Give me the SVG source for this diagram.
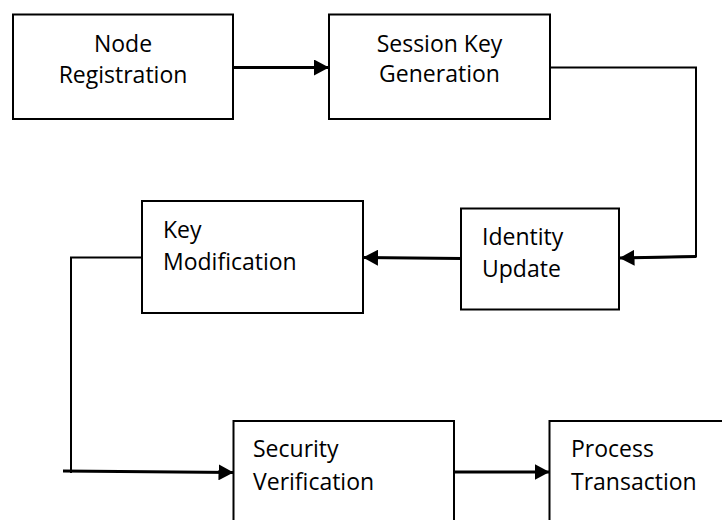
<svg xmlns="http://www.w3.org/2000/svg" width="722" height="520" viewBox="0 0 722 520">
  <defs>
    <marker id="arrow" markerUnits="userSpaceOnUse" markerWidth="16" markerHeight="16" viewBox="0 0 16 16" refX="15" refY="8" orient="auto">
      <path d="M0,0 L15,8 L0,16 Z" fill="#000"/>
    </marker>
    <style>
      .box { fill: #fff; stroke: #000; stroke-width: 2; }
      .lbl { font-family: "Open Sans", "Noto Sans", "Liberation Sans", sans-serif; font-size: 23px; fill: #000; }
      .mid { text-anchor: middle; }
      .wire { fill: none; stroke: #000; stroke-width: 2; }
      .thick { stroke-width: 3; }
    </style>
  </defs>
  <rect width="722" height="520" fill="#fff"/>

  <g id="connectors">
    <path class="wire thick" d="M233,67.5 H329" marker-end="url(#arrow)"/>
    <path class="wire" d="M550,67.5 H696 V256.5 L619.5,258"/>
    <path class="wire thick" d="M696,256.5 L619.5,258" marker-end="url(#arrow)"/>
    <path class="wire thick" d="M461,258.5 L363,257.5" marker-end="url(#arrow)"/>
    <path class="wire" d="M142,257.5 H71 V473"/>
    <path class="wire thick" d="M63,471 L233.5,472.5" marker-end="url(#arrow)"/>
    <path class="wire thick" d="M454,472 H549.5" marker-end="url(#arrow)"/>
  </g>

  <g id="node-registration">
    <rect class="box" x="13" y="14.5" width="220" height="104.5"/>
    <text class="lbl mid" x="123" y="51.5">Node</text>
    <text class="lbl mid" x="123" y="82.5">Registration</text>
  </g>

  <g id="session-key-generation">
    <rect class="box" x="329" y="14.5" width="221" height="104.5"/>
    <text class="lbl mid" x="439.5" y="51.5">Session Key</text>
    <text class="lbl mid" x="439.5" y="82">Generation</text>
  </g>

  <g id="identity-update">
    <rect class="box" x="461" y="208.5" width="158" height="101"/>
    <text class="lbl" x="482" y="245">Identity</text>
    <text class="lbl" x="482" y="277">Update</text>
  </g>

  <g id="key-modification">
    <rect class="box" x="142" y="201" width="221" height="112"/>
    <text class="lbl" x="163" y="238">Key</text>
    <text class="lbl" x="163" y="270">Modification</text>
  </g>

  <g id="security-verification">
    <rect class="box" x="233.5" y="421" width="220.5" height="110"/>
    <text class="lbl" x="253" y="457">Security</text>
    <text class="lbl" x="253" y="490">Verification</text>
  </g>

  <g id="process-transaction">
    <rect class="box" x="549.5" y="421" width="190" height="110"/>
    <text class="lbl" x="571" y="457">Process</text>
    <text class="lbl" x="571" y="490">Transaction</text>
  </g>
</svg>
